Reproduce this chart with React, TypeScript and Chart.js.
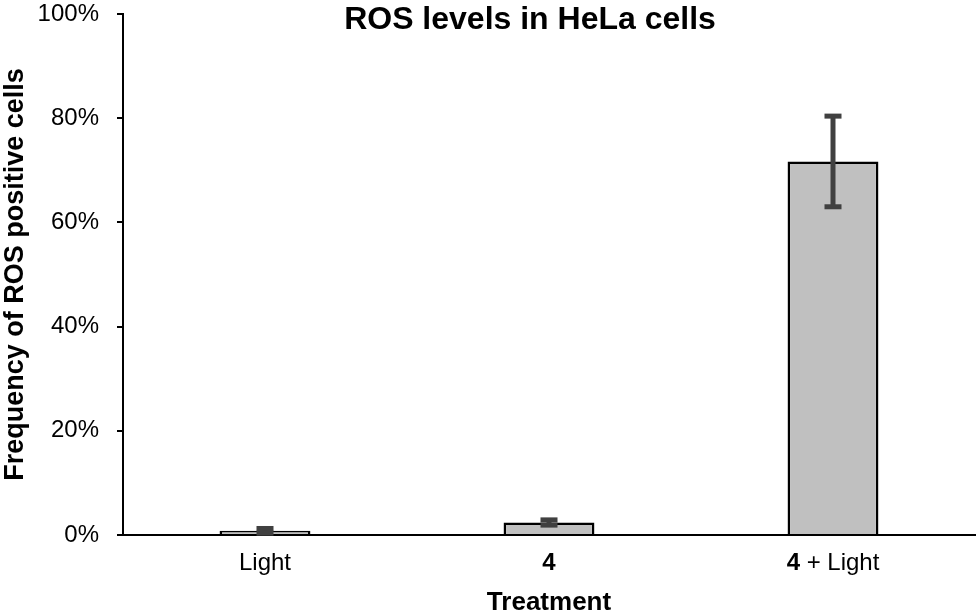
import { useEffect, useRef } from "react";
import { Chart, registerables } from "chart.js";

Chart.register(...registerables);

const FONT = "'Liberation Sans', Arial, Helvetica, sans-serif";

const categories = ["Light", "4", "4 + Light"];
// label segments: [text, bold]
const labelSegments: [string, boolean][][] = [
  [["Light", false]],
  [["4", true]],
  [["4", true], [" + Light", false]],
];
const values = [0.8, 2.4, 71.7];
const errors = [0.45, 0.5, 8.7];
const yMin = 0;
const yMax = 100;
const yStep = 20;
const chartTitle = "ROS levels in HeLa cells";
const xTitle = "Treatment";
const yTitle = "Frequency of ROS positive cells";

const errorBarPlugin = {
  id: "errorBars",
  afterDatasetsDraw(chart: any) {
    const ctx = chart.ctx;
    const meta = chart.getDatasetMeta(0);
    const y = chart.scales.y;
    ctx.save();
    ctx.strokeStyle = "#404040";
    ctx.fillStyle = "#404040";
    meta.data.forEach((bar: any, i: number) => {
      const x = bar.x;
      const top = y.getPixelForValue(values[i] + errors[i]);
      const bot = y.getPixelForValue(Math.max(0, values[i] - errors[i]));
      ctx.lineWidth = 5;
      ctx.beginPath();
      ctx.moveTo(x, top);
      ctx.lineTo(x, bot);
      ctx.stroke();
      ctx.fillRect(x - 8.5, top - 2.5, 17, 5);
      ctx.fillRect(x - 8.5, bot - 2.5, 17, 5);
    });
    ctx.restore();
  },
};

const labelsPlugin = {
  id: "customLabels",
  afterDraw(chart: any) {
    const ctx = chart.ctx;
    const xs = chart.scales.x;
    const ca = chart.chartArea;
    ctx.save();
    ctx.fillStyle = "#000";
    ctx.textBaseline = "middle";
    ctx.textAlign = "left";
    const yPos = xs.top + 28;
    labelSegments.forEach((segs, i) => {
      const cx = xs.getPixelForTick(i);
      let total = 0;
      const widths = segs.map(([t, b]) => {
        ctx.font = `${b ? "bold " : ""}24px ${FONT}`;
        const w = ctx.measureText(t).width;
        total += w;
        return w;
      });
      let x = cx - total / 2;
      segs.forEach(([t, b], k) => {
        ctx.font = `${b ? "bold " : ""}24px ${FONT}`;
        ctx.fillText(t, x, yPos);
        x += widths[k];
      });
    });
    // chart title
    ctx.font = `bold 32px ${FONT}`;
    ctx.textAlign = "center";
    ctx.fillText(chartTitle, (ca.left + ca.right) / 2 - 19, 20);
    ctx.restore();
  },
};

export default function App() {
  const ref = useRef<HTMLCanvasElement | null>(null);
  useEffect(() => {
    document.body.style.margin = "0";
    if (!ref.current) return;
    const chart = new Chart(ref.current, {
      type: "bar",
      data: {
        labels: categories,
        datasets: [
          {
            data: values,
            backgroundColor: "#c0c0c0",
            borderColor: "#000",
            borderWidth: 2.5,
            barPercentage: 0.32,
            categoryPercentage: 1,
          },
        ],
      },
      options: {
        animation: false,
        responsive: true,
        maintainAspectRatio: false,
        layout: { padding: { top: 14, right: 2, left: 0, bottom: 0 } },
        plugins: {
          legend: { display: false },
          tooltip: { enabled: false },
          title: { display: false },
        },
        scales: {
          x: {
            grid: { display: false },
            border: { display: true, color: "#000", width: 2 },
            ticks: { display: false },
            title: {
              display: true,
              text: xTitle,
              color: "#000",
              font: { family: FONT, size: 26, weight: "bold", lineHeight: 1 },
              padding: { top: 0, bottom: 0 },
            },
            afterFit: (s: any) => {
              s.height = 81;
              s.paddingLeft = 0;
              s.paddingRight = 0;
            },
          },
          y: {
            min: yMin,
            max: yMax,
            ticks: {
              stepSize: yStep,
              color: "#000",
              font: { family: FONT, size: 24 },
              padding: 18,
              callback: (v: any) => `${v}%`,
            },
            grid: {
              drawOnChartArea: false,
              drawTicks: true,
              tickLength: 6,
              tickColor: "#000",
              lineWidth: 2,
            },
            border: { display: true, color: "#000", width: 2 },
            title: {
              display: true,
              text: yTitle,
              color: "#000",
              font: { family: FONT, size: 27, weight: "bold", lineHeight: 1 },
              padding: { top: 2, bottom: 0 },
            },
            afterFit: (s: any) => {
              s.width = 123;
              s.paddingTop = 0;
              s.paddingBottom = 0;
            },
          },
        },
      },
      plugins: [errorBarPlugin, labelsPlugin],
    } as any);
    return () => chart.destroy();
  }, []);
  return (
    <div style={{ position: "relative", width: "977px", height: "616px" }}>
      <canvas ref={ref} />
    </div>
  );
}
